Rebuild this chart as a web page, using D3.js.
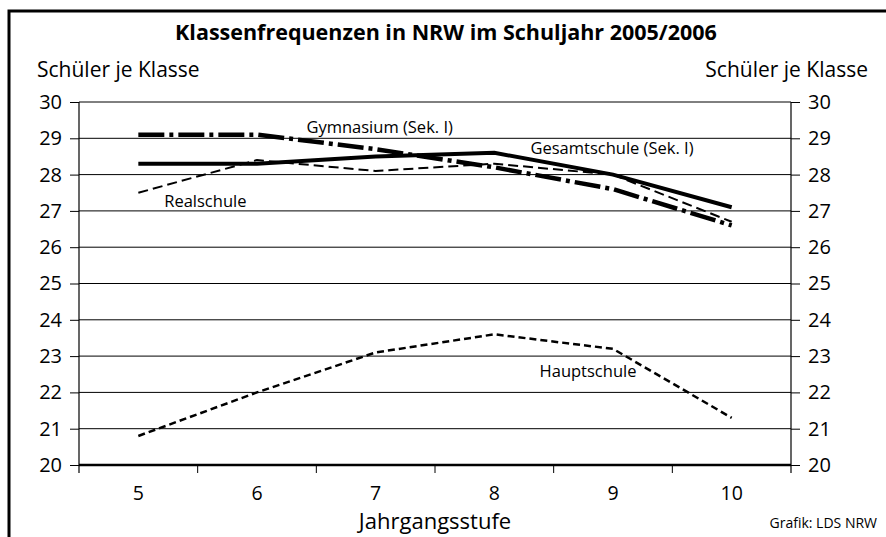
<!DOCTYPE html>
<html>
<head>
<meta charset="utf-8">
<script src="https://cdn.jsdelivr.net/npm/d3@7"></script>
<style>
  body { margin: 0; background: #fff; }
  svg { display: block; }
</style>
</head>
<body>
<div id="chart"></div>
<script>
// Jahrgangsstufen (categories)
const stufen = [5, 6, 7, 8, 9, 10];

// Schüler je Klasse
const gymnasium    = [29.1, 29.1, 28.7, 28.2, 27.6, 26.6];
const gesamtschule = [28.3, 28.3, 28.5, 28.6, 28.0, 27.1];
const realschule   = [27.5, 28.4, 28.1, 28.3, 28.0, 26.7];
const hauptschule  = [20.8, 22.0, 23.1, 23.6, 23.2, 21.3];

const yTicks = [20, 21, 22, 23, 24, 25, 26, 27, 28, 29, 30];

const width = 886, height = 537;
const plotLeft = 79, plotRight = 791, plotTop = 102, plotBottom = 465;
const font = "'Open Sans', sans-serif";

const svg = d3.select("#chart").append("svg")
    .attr("width", width)
    .attr("height", height)
    .style("font-family", font);

const x = d3.scaleBand()
    .domain(stufen)
    .range([plotLeft, plotRight]);

const y = d3.scaleLinear()
    .domain([20, 30])
    .range([plotBottom, plotTop]);

// frame (left + top edge visible)
svg.append("path")
    .attr("d", `M9,${height} L9,11 L${width},11`)
    .attr("fill", "none")
    .attr("stroke", "#000")
    .attr("stroke-width", 3);

// title
svg.append("text")
    .attr("x", 446)
    .attr("y", 40)
    .attr("text-anchor", "middle")
    .attr("font-weight", "bold")
    .attr("font-size", 21.5)
    .text("Klassenfrequenzen in NRW im Schuljahr 2005/2006");

svg.append("text")
    .attr("x", 37).attr("y", 77)
    .attr("font-size", 21)
    .text("Schüler je Klasse");

svg.append("text")
    .attr("x", 868).attr("y", 77)
    .attr("text-anchor", "end")
    .attr("font-size", 21)
    .text("Schüler je Klasse");

// gridlines
svg.append("g")
  .selectAll("line")
  .data(yTicks)
  .join("line")
    .attr("x1", plotLeft).attr("x2", plotRight)
    .attr("y1", d => y(d)).attr("y2", d => y(d))
    .attr("stroke", "#000")
    .attr("stroke-width", d => d === 20 ? 2.5 : 1);

// y axes, left and right
const yLeft = svg.append("g")
    .attr("transform", `translate(${plotLeft},0)`)
    .call(d3.axisLeft(y).tickValues(yTicks).tickSize(9).tickPadding(8))
    .call(g => g.select(".domain").remove());

const yRight = svg.append("g")
    .attr("transform", `translate(${plotRight},0)`)
    .call(d3.axisRight(y).tickValues(yTicks).tickSize(9).tickPadding(8))
    .call(g => g.select(".domain").remove());

[yLeft, yRight].forEach(g => {
  g.selectAll("text")
      .attr("font-family", font)
      .attr("font-size", 20)
      .attr("fill", "#000");
  g.selectAll(".tick line").attr("stroke", "#000");
});

// vertical axis lines reaching below the baseline
[plotLeft, plotRight].forEach(px => {
  svg.append("line")
      .attr("x1", px).attr("x2", px)
      .attr("y1", plotTop).attr("y2", plotBottom + 8)
      .attr("stroke", "#000")
      .attr("stroke-width", 1.2);
});

// x axis: ticks between categories, labels centered
svg.append("g")
  .selectAll("line")
  .data(stufen.slice(1))
  .join("line")
    .attr("x1", d => x(d)).attr("x2", d => x(d))
    .attr("y1", plotBottom).attr("y2", plotBottom + 8)
    .attr("stroke", "#000");

const xAxis = svg.append("g")
    .attr("transform", `translate(0,${plotBottom})`)
    .call(d3.axisBottom(x).tickSize(0).tickPadding(21))
    .call(g => g.select(".domain").remove());

xAxis.selectAll("text")
    .attr("font-family", font)
    .attr("font-size", 19.5)
    .attr("fill", "#000");

svg.append("text")
    .attr("x", (plotLeft + plotRight) / 2)
    .attr("y", 529)
    .attr("text-anchor", "middle")
    .attr("font-size", 22)
    .text("Jahrgangsstufe");

svg.append("text")
    .attr("x", 877)
    .attr("y", 528)
    .attr("text-anchor", "end")
    .attr("font-size", 14)
    .text("Grafik: LDS NRW");

// series lines
const cx = v => x(v) + x.bandwidth() / 2;

const line = d3.line()
    .x((d, i) => cx(stufen[i]))
    .y(d => y(d));

const series = [
  { name: "Gesamtschule", values: gesamtschule, w: 4, dash: null },
  { name: "Realschule", values: realschule, w: 2, dash: "10,5" },
  { name: "Gymnasium", values: gymnasium, w: 4.5, dash: "26,5,4,5" },
  { name: "Hauptschule", values: hauptschule, w: 2.5, dash: "7,4" }
];

svg.append("g")
  .selectAll("path")
  .data(series)
  .join("path")
    .attr("d", d => line(d.values))
    .attr("fill", "none")
    .attr("stroke", "#000")
    .attr("stroke-width", d => d.w)
    .attr("stroke-dasharray", d => d.dash);

// series labels
const labels = [
  { text: "Gymnasium (Sek. I)", x: cx(7) + 4, y: y(29.15) },
  { text: "Gesamtschule (Sek. I)", x: cx(9) - 1, y: y(28.57) },
  { text: "Realschule", x: cx(5) + 67, y: y(27.1) },
  { text: "Hauptschule", x: cx(9) - 25, y: y(22.42) }
];

svg.append("g")
  .selectAll("text")
  .data(labels)
  .join("text")
    .attr("x", d => d.x)
    .attr("y", d => d.y)
    .attr("text-anchor", "middle")
    .attr("font-size", 16.5)
    .text(d => d.text);
</script>
</body>
</html>
